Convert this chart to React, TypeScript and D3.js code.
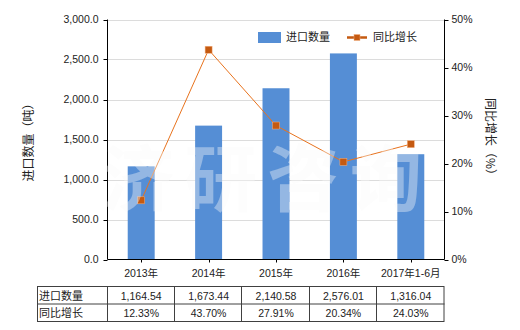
import React from "react";
import * as d3 from "d3";

const categories = ["2013年", "2014年", "2015年", "2016年", "2017年1-6月"];
const importQty = [1164.54, 1673.44, 2140.58, 2576.01, 1316.04];
const yoyGrowth = [12.33, 43.7, 27.91, 20.34, 24.03];
const importLabels = ["1,164.54", "1,673.44", "2,140.58", "2,576.01", "1,316.04"];
const growthLabels = ["12.33%", "43.70%", "27.91%", "20.34%", "24.03%"];
const leftTicks = [0, 500, 1000, 1500, 2000, 2500, 3000];
const rightTicks = [0, 10, 20, 30, 40, 50];
const seriesNames = ["进口数量", "同比增长"];

const W = 520;
const H = 330;
const M = { left: 107.5, right: 444.5, top: 19.5, bottom: 259.5 };
const BAR = "#558ED5";
const LINE = "#E8731E";
const MARK = "#C55A11";
const FONT = "'Liberation Sans', 'Noto Sans CJK SC', sans-serif";

export default function App() {
  const x = d3.scaleBand<string>().domain(categories).range([M.left, M.right]).padding(0);
  const yL = d3.scaleLinear().domain([0, 3000]).range([M.bottom, M.top]);
  const yR = d3.scaleLinear().domain([0, 50]).range([M.bottom, M.top]);
  const bw = x.bandwidth();
  const barW = bw * 0.4;
  const cx = (c: string) => (x(c) as number) + bw / 2;
  const fmtL = d3.format(",.1f");

  const line = d3
    .line<number>()
    .x((_, i) => cx(categories[i]))
    .y((d) => yR(d));

  const tblTop = 286;
  const rowH = 17.5;
  const tblLeft = 37;

  return (
    <svg
      width={W}
      height={H}
      style={{ position: "absolute", left: 0, top: 0, background: "#fff" }}
      fontFamily={FONT}
    >
      {/* gridlines */}
      {leftTicks.slice(1).map((t) => (
        <line key={t} x1={M.left} x2={M.right} y1={Math.round(yL(t)) + 0.5} y2={Math.round(yL(t)) + 0.5} stroke="#DCDCDC" />
      ))}
      {/* bars */}
      {importQty.map((v, i) => (
        <rect key={i} x={cx(categories[i]) - barW / 2} y={yL(v)} width={barW} height={M.bottom - yL(v)} fill={BAR} />
      ))}
      {/* axes */}
      <line x1={M.left} x2={M.left} y1={M.top} y2={M.bottom} stroke="#000" />
      <line x1={M.right} x2={M.right} y1={M.top} y2={M.bottom} stroke="#000" />
      <line x1={M.left} x2={M.right} y1={M.bottom} y2={M.bottom} stroke="#000" />
      {leftTicks.map((t) => (
        <g key={t}>
          <line x1={M.left - 4} x2={M.left} y1={Math.round(yL(t)) + 0.5} y2={Math.round(yL(t)) + 0.5} stroke="#000" />
          <text x={M.left - 9} y={yL(t)} dy="0.35em" textAnchor="end" fontSize={10.5} fill="#222">
            {fmtL(t)}
          </text>
        </g>
      ))}
      {rightTicks.map((t) => (
        <g key={t}>
          <line x1={M.right} x2={M.right + 4} y1={Math.round(yR(t)) + 0.5} y2={Math.round(yR(t)) + 0.5} stroke="#000" />
          <text x={M.right + 7} y={yR(t)} dy="0.35em" textAnchor="start" fontSize={10.5} fill="#222">
            {t + "%"}
          </text>
        </g>
      ))}
      {categories.map((c) => (
        <g key={c}>
          <line x1={Math.round(cx(c)) + 0.5} x2={Math.round(cx(c)) + 0.5} y1={M.bottom} y2={M.bottom + 3} stroke="#000" />
          <text x={cx(c)} y={273} dy="0.35em" textAnchor="middle" fontSize={10.5} fill="#222">
            {c}
          </text>
        </g>
      ))}
      {/* axis titles */}
      <text transform={`translate(29,${(M.top + M.bottom) / 2}) rotate(-90)`} textAnchor="middle" dy="0.35em" fontSize={12} fill="#222" fontFamily="'Noto Sans CJK SC', sans-serif">
        进口数量（吨）
      </text>
      <text transform={`translate(490,${(M.top + M.bottom) / 2}) rotate(90)`} textAnchor="middle" dy="0.35em" fontSize={12} fill="#222" fontFamily="'Noto Sans CJK SC', sans-serif">
        同比增长（%）
      </text>
      {/* line */}
      <path d={line(yoyGrowth) || ""} fill="none" stroke={LINE} strokeWidth={1} />
      {yoyGrowth.map((v, i) => (
        <rect key={i} x={cx(categories[i]) - 3.5} y={yR(v) - 3.5} width={7} height={7} fill={MARK} stroke="#F4B183" strokeWidth={0.5} />
      ))}
      {/* legend */}
      <rect x={258} y={32} width={23} height={11} fill={BAR} />
      <text x={286} y={37.5} dy="0.35em" fontSize={11} fill="#222">
        {seriesNames[0]}
      </text>
      <line x1={347} x2={367} y1={37.5} y2={37.5} stroke={MARK} strokeWidth={2.5} />
      <rect x={354} y={34.5} width={6} height={6} fill={MARK} stroke="#F4B183" strokeWidth={0.5} />
      <text x={373} y={37.5} dy="0.35em" fontSize={11} fill="#222">
        {seriesNames[1]}
      </text>
      {/* table */}
      <g stroke="#404040" strokeWidth={1} fill="none">
        <rect x={tblLeft + 0.5} y={tblTop + 0.5} width={M.right - tblLeft - 1} height={rowH * 2} />
        <line x1={tblLeft} x2={M.right} y1={tblTop + rowH + 0.5} y2={tblTop + rowH + 0.5} />
        {categories.map((c) => (
          <line key={c} x1={Math.round(x(c) as number) - 0.5} x2={Math.round(x(c) as number) - 0.5} y1={tblTop} y2={tblTop + rowH * 2 + 0.5} />
        ))}
      </g>
      {seriesNames.map((s, r) => (
        <text key={s} x={tblLeft + 2} y={tblTop + rowH * r + rowH / 2 + 1} dy="0.35em" fontSize={11} fill="#222">
          {s}
        </text>
      ))}
      {categories.map((c, i) => (
        <g key={c}>
          <text x={cx(c)} y={tblTop + rowH / 2 + 1.5} dy="0.35em" textAnchor="middle" fontSize={10.5} fill="#222">
            {importLabels[i]}
          </text>
          <text x={cx(c)} y={tblTop + rowH * 1.5 + 1.5} dy="0.35em" textAnchor="middle" fontSize={10.5} fill="#222">
            {growthLabels[i]}
          </text>
        </g>
      ))}
      {/* watermark */}
      <text
        x={102}
        y={205}
        textLength={320}
        lengthAdjust="spacing"
        fontSize={72}
        fontWeight="bold"
        fontFamily="'Noto Sans CJK SC', sans-serif"
        fill="#FAFAFA"
        opacity={0.38}
      >
        济研咨询
      </text>
    </svg>
  );
}
